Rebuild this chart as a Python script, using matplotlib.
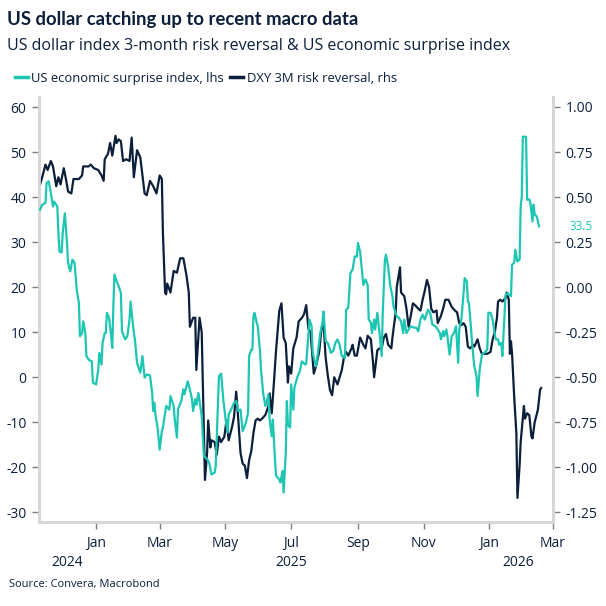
import numpy as np
import pandas as pd
import matplotlib
matplotlib.use("Agg")
import matplotlib.pyplot as plt
import matplotlib.dates as mdates
import matplotlib.ticker as mticker
from matplotlib.lines import Line2D

plt.rcParams['font.family'] = ['Open Sans', 'DejaVu Sans']
plt.rcParams['axes.unicode_minus'] = False

# days counted from 2025-01-01
surprise_days = [-52, -50, -47, -46, -44, -42, -40, -39, -36, -35, -34, -32, -31, -29, -27, -26, -24, -22, -20, -18,
                 -16, -15, -13, -12, -10, -9, -7, -4, -3, 0, 2, 3, 5, 6, 8, 9, 10, 12, 14, 15,
                 16, 17, 19, 21, 23, 24, 27, 29, 31, 32, 35, 36, 38, 39, 41, 43, 45, 47, 50, 52,
                 53, 54, 55, 57, 59, 61, 62, 65, 68, 69, 72, 73, 75, 76, 79, 81, 82, 85, 87, 89,
                 90, 92, 93, 95, 96, 98, 100, 103, 105, 107, 110, 111, 113, 114, 116, 118, 120, 122, 123, 126,
                 128, 130, 132, 134, 136, 139, 141, 142, 144, 145, 146, 147, 149, 150, 152, 153, 155, 157, 158, 160,
                 161, 163, 164, 166, 167, 170, 171, 173, 174, 176, 177, 178, 180, 181, 183, 184, 187, 189, 191, 194,
                 195, 197, 198, 200, 201, 204, 205, 208, 210, 211, 213, 215, 218, 220, 222, 224, 226, 228, 231, 232,
                 234, 236, 238, 240, 242, 243, 245, 246, 248, 250, 252, 253, 255, 256, 258, 259, 261, 263, 265, 266,
                 268, 269, 271, 273, 275, 276, 279, 281, 283, 285, 286, 288, 290, 292, 295, 297, 299, 301, 303, 305,
                 307, 308, 310, 312, 315, 317, 319, 320, 322, 323, 325, 326, 328, 330, 332, 334, 336, 337, 339, 341,
                 342, 344, 345, 346, 348, 349, 351, 353, 354, 356, 358, 360, 363, 364, 366, 368, 370, 371, 373, 374,
                 376, 377, 379, 380, 382, 383, 385, 386, 388, 389, 391, 393, 394, 395, 396, 399, 400, 402, 403, 405,
                 406, 407, 409, 410, 411]
surprise = [37.2, 38.3, 38.7, 43.1, 43.5, 40.9, 37.9, 39.0, 37.9, 32.0, 27.9, 27.7, 32.0, 36.4, 29.8, 25.4, 23.5, 26.1, 25.4, 19.4,
            16.5, 9.1, 9.8, 12.4, 9.8, 4.7, 3.9, 3.5, -1.2, -1.6, 1.7, 5.4, 2.8, 7.6, 9.8, 9.8, 14.3, 13.2, 9.1, 6.5,
            15.7, 22.8, 21.3, 20.2, 18.7, 10.2, 8.4, 9.1, 12.8, 16.8, 9.8, 8.4, 3.2, 2.4, 1.0, 4.7, -0.1, 0.6, 0.4, -3.5,
            -7.5, -5.7, -8.3, -11.2, -16.1, -12.0, -11.2, -6.4, -7.2, -4.2, -6.4, -9.4, -13.4, -7.2, -5.3, -2.7, -3.8, -0.9, -2.7, -4.9,
            -7.5, -4.9, -6.1, -3.5, -5.3, -8.6, -17.5, -18.2, -19.0, -21.6, -21.2, -19.7, -6.4, 0.2, 0.8, -4.9, -9.0, -12.3, -8.3, -6.8,
            -5.7, -5.3, -7.5, -7.2, -12.0, -10.1, -7.9, 4.7, 6.1, 6.1, 13.5, 14.3, 12.1, 11.3, 6.1, 1.7, -3.5, -6.4, -5.7, -3.8,
            -9.4, -13.1, -9.4, -18.2, -21.9, -22.7, -23.4, -20.8, -25.6, -16.8, -5.3, -10.5, -11.2, -1.6, -7.2, -2.3, 0.2, 1.3, 3.5, 2.8,
            3.0, 9.5, 12.8, 11.3, 5.4, 2.4, 3.9, 9.8, 12.1, 14.6, 8.0, 7.6, 5.4, 5.8, 7.6, 8.4, 7.2, 4.7, 4.3, 15.0,
            15.4, 23.1, 23.9, 26.8, 26.8, 29.8, 27.9, 25.4, 20.5, 21.7, 20.5, 12.8, 12.1, 9.8, 12.8, 10.6, 14.3, 9.8, 4.7, 14.3,
            26.1, 27.2, 24.6, 20.2, 18.0, 15.7, 13.5, 13.2, 12.4, 9.8, 12.8, 9.8, 10.6, 11.3, 11.0, 11.0, 10.2, 12.8, 13.9, 12.8,
            14.3, 15.0, 14.3, 11.7, 11.3, 10.6, 9.8, 8.4, 10.2, 9.1, 10.6, 9.1, 5.0, 9.1, 9.8, 11.3, 3.2, 10.6, 12.8, 18.7,
            22.0, 21.3, 16.8, 16.5, 10.6, 7.2, 2.4, 0.2, -4.2, 1.7, 5.0, 5.4, 6.1, 14.3, 14.3, 12.8, 9.5, 8.4, 8.4, 7.2,
            7.6, 4.7, 13.5, 18.3, 18.7, 18.3, 18.0, 25.0, 25.4, 28.3, 25.7, 26.1, 37.9, 40.1, 53.4, 53.4, 39.4, 39.5, 38.7, 34.6,
            38.3, 36.1, 35.7, 34.6, 33.5]

rr_days = [-52, -50, -47, -45, -42, -40, -37, -35, -33, -30, -28, -26, -23, -21, -16, -13, -12, -7, -5, -2,
           2, 5, 7, 8, 11, 13, 15, 18, 19, 21, 23, 25, 28, 31, 33, 35, 38, 41, 45, 47,
           50, 53, 56, 59, 61, 62, 64, 65, 66, 69, 72, 75, 78, 81, 84, 86, 87, 90, 92, 93,
           96, 98, 99, 101, 103, 104, 106, 107, 110, 112, 114, 116, 119, 121, 123, 126, 128, 130, 132, 134,
           136, 138, 140, 142, 144, 146, 148, 150, 152, 154, 157, 160, 161, 163, 165, 167, 170, 172, 174, 176,
           178, 179, 181, 183, 186, 188, 191, 193, 195, 197, 199, 201, 202, 204, 207, 209, 211, 213, 215, 217,
           219, 221, 224, 226, 228, 230, 232, 234, 237, 238, 240, 242, 245, 248, 250, 252, 255, 257, 258, 261,
           263, 265, 267, 269, 271, 274, 275, 278, 279, 282, 283, 286, 288, 290, 292, 294, 296, 299, 301, 303,
           305, 307, 309, 311, 313, 316, 317, 320, 322, 324, 327, 330, 333, 335, 337, 339, 341, 343, 345, 347,
           350, 351, 354, 356, 358, 360, 363, 366, 368, 370, 372, 373, 375, 377, 380, 381, 383, 384, 385, 386,
           388, 390, 391, 393, 394, 397, 398, 400, 402, 404, 405, 407, 410, 412, 413]
risk_reversal = [0.57, 0.61, 0.68, 0.65, 0.70, 0.67, 0.56, 0.61, 0.57, 0.66, 0.60, 0.53, 0.52, 0.60, 0.60, 0.62, 0.67, 0.67, 0.68, 0.66,
                 0.65, 0.62, 0.59, 0.71, 0.74, 0.80, 0.73, 0.84, 0.80, 0.82, 0.81, 0.70, 0.71, 0.70, 0.83, 0.61, 0.76, 0.72, 0.52, 0.51,
                 0.59, 0.56, 0.52, 0.62, 0.60, 0.30, -0.03, -0.04, 0.02, -0.03, 0.09, 0.08, 0.16, 0.16, 0.06, -0.03, -0.22, -0.17, -0.17, -0.46,
                 -0.17, -0.25, -0.53, -1.07, -0.92, -0.74, -0.89, -0.85, -0.86, -0.93, -0.83, -0.86, -0.83, -0.74, -0.85, -0.78, -0.72, -0.58, -0.74, -0.92,
                 -0.98, -0.99, -1.06, -0.96, -0.91, -0.81, -0.74, -0.73, -0.74, -0.73, -0.71, -0.66, -0.59, -0.70, -0.53, -0.35, -0.13, -0.09, -0.28, -0.31,
                 -0.53, -0.44, -0.48, -0.34, -0.28, -0.19, -0.17, -0.15, -0.10, -0.23, -0.25, -0.40, -0.48, -0.44, -0.36, -0.24, -0.19, -0.39, -0.49, -0.57,
                 -0.60, -0.50, -0.54, -0.50, -0.46, -0.39, -0.36, -0.38, -0.34, -0.32, -0.38, -0.38, -0.28, -0.32, -0.34, -0.27, -0.29, -0.42, -0.50, -0.35,
                 -0.34, -0.34, -0.28, -0.26, -0.32, -0.34, -0.28, -0.14, 0.00, 0.11, -0.03, -0.05, -0.12, -0.22, -0.16, -0.09, -0.10, -0.12, -0.13, -0.07,
                 -0.02, 0.04, 0.00, -0.12, -0.14, -0.13, -0.20, -0.16, -0.12, -0.07, -0.07, -0.11, -0.13, -0.14, -0.20, -0.21, -0.20, -0.22, -0.33, -0.34,
                 -0.32, -0.33, -0.29, -0.34, -0.37, -0.37, -0.37, -0.36, -0.29, -0.25, -0.17, -0.08, -0.07, -0.08, -0.06, -0.03, -0.07, -0.37, -0.30, -0.37,
                 -0.61, -0.81, -1.17, -0.99, -0.86, -0.66, -0.73, -0.70, -0.71, -0.83, -0.84, -0.75, -0.68, -0.57, -0.56]

last_label = "33.5"

teal = "#1cc6b2"
navy = "#0b1f3b"
text_col = "#0b1f3b"
tick_col = "#7f7f7f"
spine_col = "#d6d6d6"

base = pd.Timestamp("2025-01-01")
s_dates = base + pd.to_timedelta(surprise_days, unit="D")
r_dates = base + pd.to_timedelta(rr_days, unit="D")

fig = plt.figure(figsize=(6.06, 6.06), dpi=100)
ax = fig.add_axes([39 / 606, 1 - 521.7 / 606, (553 - 39) / 606, (521.7 - 96.7) / 606])
ax2 = ax.twinx()

ax.plot(s_dates, surprise, color=teal, lw=1.6, zorder=3)
ax2.plot(r_dates, risk_reversal, color=navy, lw=1.6, zorder=3)
ax.set_zorder(2)
ax.patch.set_visible(False)

ax.set_xlim(base + pd.Timedelta(days=-53), pd.Timestamp("2026-03-01"))
ax.set_ylim(-32.09, 62.29)
ax2.set_ylim(-1.302, 1.057)
ax.set_yticks(np.arange(-30, 61, 10))
ax2.set_yticks(np.arange(-1.25, 1.01, 0.25))
ax2.yaxis.set_major_formatter(mticker.FormatStrFormatter('%.2f'))

ax.xaxis.set_major_locator(mdates.MonthLocator(bymonth=[1, 3, 5, 7, 9, 11]))
ax.xaxis.set_major_formatter(mdates.DateFormatter('%b'))

for a in (ax, ax2):
    a.spines["top"].set_visible(False)
    for side in ("left", "right", "bottom"):
        a.spines[side].set_color(spine_col)
        a.spines[side].set_linewidth(2)
    a.tick_params(axis="both", direction="out", length=5, width=1, color=tick_col,
                  labelcolor=text_col, labelsize=10, pad=4)
ax.tick_params(axis="x", pad=5)

# year labels under the month labels
trans = ax.get_xaxis_transform()
for txt, d in [("2024", pd.Timestamp("2024-12-05")), ("2025", pd.Timestamp("2025-07-01")),
               ("2026", pd.Timestamp("2026-01-28"))]:
    ax.text(d, -0.095, txt, transform=trans, ha="center", va="center", fontsize=10, color=text_col)

ax.annotate(last_label, xy=(1, surprise[-1]), xycoords=("axes fraction", "data"),
            xytext=(12, 0), textcoords="offset points", ha="left", va="center",
            fontsize=8.5, color=teal)

fig.text(0.012, 0.967, "US dollar catching up to recent macro data", fontsize=13.3,
         fontweight="bold", color=text_col, va="center", family=["Lato", "DejaVu Sans"])
fig.text(0.012, 0.924, "US dollar index 3-month risk reversal & US economic surprise index",
         fontsize=11.5, color=text_col, va="center")
fig.text(0.015, 0.035, "Source: Convera, Macrobond", fontsize=8, color=text_col, va="center")

handles = [Line2D([], [], color=teal, lw=2.5), Line2D([], [], color=navy, lw=2.5)]
fig.legend(handles, ["US economic surprise index, lhs", "DXY 3M risk reversal, rhs"],
           loc="center left", bbox_to_anchor=(0.005, 0.871), ncol=2, frameon=False,
           fontsize=9.4, handlelength=1.0, handletextpad=0.25, columnspacing=0.5,
           labelcolor=text_col)

fig.savefig("out.png", dpi=100)
